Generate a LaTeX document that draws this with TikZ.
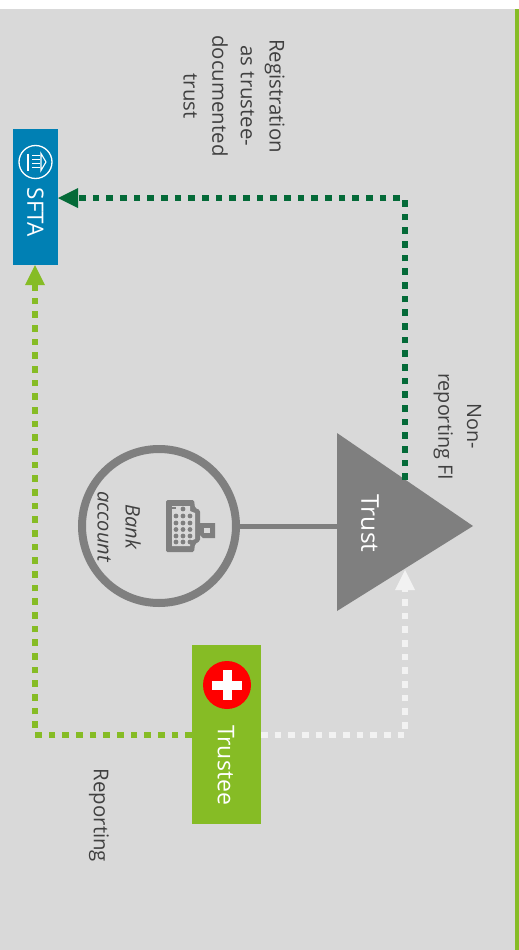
\documentclass[tikz,border=0pt]{standalone}
\usepackage{fontspec}
\setmainfont{Open Sans}
\usetikzlibrary{arrows.meta}
\definecolor{bggrey}{HTML}{D9D9D9}
\definecolor{lime}{HTML}{86BC25}
\definecolor{sftablue}{HTML}{0080B4}
\definecolor{darkgreen}{HTML}{046A38}
\definecolor{midgrey}{HTML}{7F7F7F}
\definecolor{paleline}{HTML}{F2F2F2}
\definecolor{txt}{HTML}{404040}
\tikzset{
  label text/.style={rotate=-90,align=center,text=txt,font=\fontsize{20.4}{28.7}\selectfont,inner sep=0pt},
  white text/.style={rotate=-90,text=white,inner sep=0pt},
  box/.style={inner sep=0pt,outer sep=0pt},
  flow/.style={line width=6.6pt,dash pattern=on 6.6pt off 7.07pt,
     -{Triangle[length=20pt,width=20pt,fill=#1,color=#1,line width=0pt]},color=#1},
}
\begin{document}
\begin{tikzpicture}[x=1pt,y=-1pt]
\useasboundingbox (0,0) rectangle (519,950);
\fill[white] (0,0) rectangle (519,950);
\fill[bggrey] (0,9) rectangle (515,950);
\fill[lime] (515,9) rectangle (519,950);

% boxes
\node[box,fill=sftablue,minimum width=45pt,minimum height=136pt] (sfta) at (35.5,197) {};
\node[box,fill=lime,minimum width=69pt,minimum height=179pt] (trustee) at (226.5,734.5) {};

% trust triangle
\coordinate (tA) at (337,433);
\coordinate (tB) at (337,611);
\coordinate (tC) at (473,526);
\fill[midgrey] (tA) -- (tC) -- (tB) -- cycle;
\coordinate (trustL) at (337,526);
\coordinate (trustUp) at (405,480);
\coordinate (trustDown) at (405,570);
\node[white text,font=\fontsize{24.5}{28}\selectfont] (trustlabel) at (370,523.5) {Trust};

% connectors
\coordinate (cornerA) at (405,198);
\coordinate (cornerB) at (405,735);
\coordinate (cornerC) at (35,735);
\coordinate (sftaArrowR) at (58,198);
\coordinate (sftaArrowB) at (35,265);
\coordinate (trusteeR) at (261,735);
\coordinate (trusteeL) at (192,735);
\draw[flow=darkgreen] (trustUp) -- (cornerA) -- (sftaArrowR);
\draw[flow=paleline] (trusteeR) -- (cornerB) -- (trustDown);
\draw[flow=lime] (trusteeL) -- (cornerC) -- (sftaArrowB);

% bank account
\node[circle,draw=midgrey,line width=8pt,minimum size=154pt,inner sep=0pt,outer sep=4pt] (bank) at (159,526) {};
\draw[midgrey,line width=5pt] (bank.east) -- (trustL);
\node[rotate=-90,align=center,text=txt,font=\itshape\fontsize{20}{28}\selectfont,inner sep=0pt] (banklabel) at (119,526.5) {Bank\\account};
% keyboard icon
\fill[midgrey,rounded corners=1.5pt] (166,500) -- (194,500) -- (195,508) -- (200,510) -- (200,541) -- (195,544) -- (194,552) -- (166,552) -- cycle;
\fill[bggrey] (172,506) -- (190,506) -- (190,511) -- (195,513) -- (195,539) -- (190,541) -- (190,546) -- (172,546) -- cycle;
\foreach \xx in {176,183,190}{
  \foreach \yy in {516,523,529.5,536,542}{
    \fill[midgrey] (\xx,\yy) circle (2.4pt);
  }
}
\fill[midgrey] (183,509) circle (2.4pt);
\fill[midgrey] (176,509) rectangle (172,507);
\fill[midgrey] (200,523) -- (215,523) -- (215,538) -- (203,538) -- (200,535) -- cycle;
\fill[bggrey] (204,528) rectangle (210,533);

% SFTA icon
\node[circle,draw=white,line width=1.3pt,minimum size=33pt,inner sep=0pt] (sftaicon) at (35.5,162) {};
\draw[white,line width=1.2pt] (28,153.5) -- (28,170.5);
\draw[white,line width=1pt] (32,155) -- (40,155) (32,159) -- (40,159) (32,163) -- (40,163) (32,167) -- (40,167);
\draw[white,line width=1.1pt] (41,153.5) -- (46,162) -- (41,170.5) -- cycle;
\node[white text,font=\fontsize{22.5}{26}\selectfont] (sftalabel) at (35.5,212.5) {SFTA};

% trustee icon
\node[circle,fill=red,minimum size=48pt,inner sep=0pt] (swiss) at (227,685) {};
\fill[white] (222.5,670) rectangle (231.5,700);
\fill[white] (212,680.5) rectangle (242,689.5);
\node[white text,font=\fontsize{23}{28}\selectfont] (trusteelabel) at (226,765) {Trustee};

% labels
\node[label text] (reg) at (234,96) {Registration\\as trustee-\\documented\\trust};
\node[label text,font=\fontsize{19.8}{28.7}\selectfont] (nonrep) at (457.5,426.5) {Non-\\reporting FI};
\node[label text] (rep) at (99,815.5) {Reporting};
\end{tikzpicture}
\end{document}
